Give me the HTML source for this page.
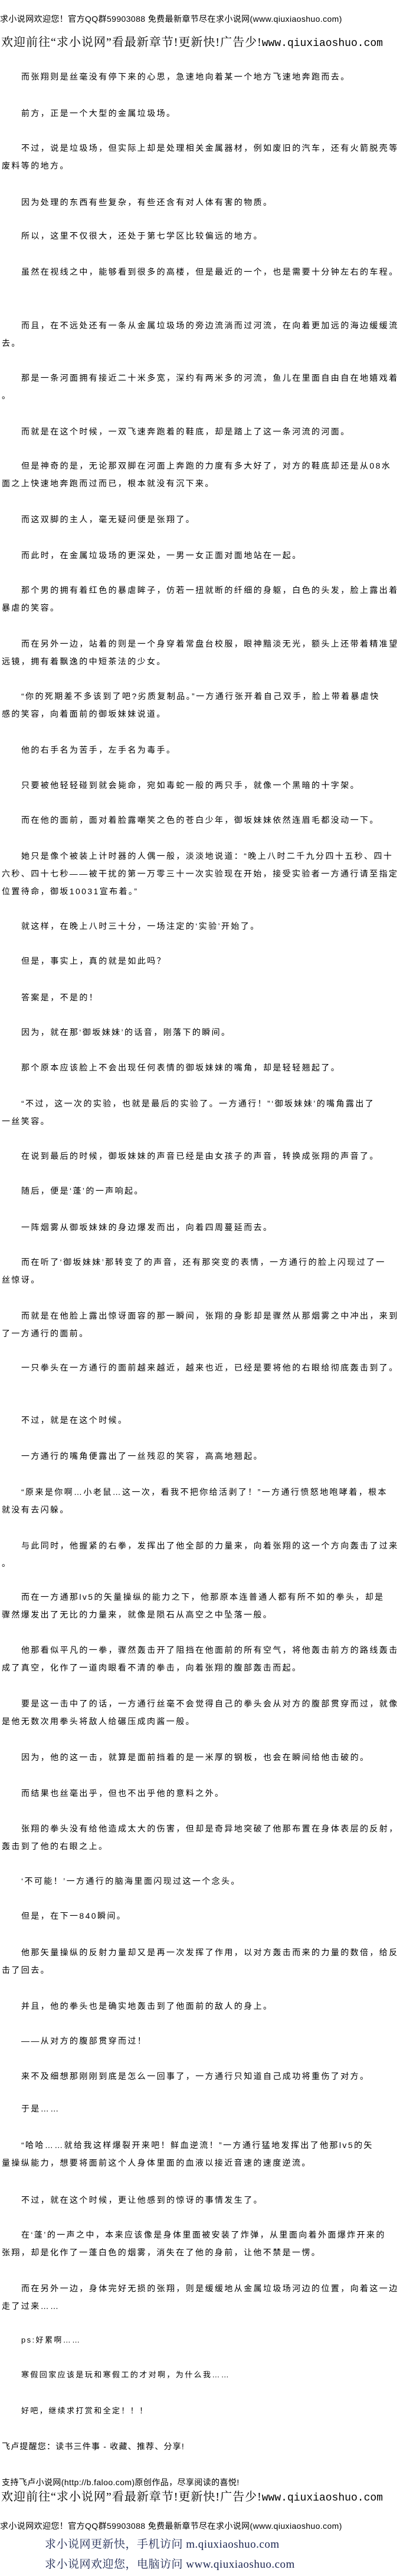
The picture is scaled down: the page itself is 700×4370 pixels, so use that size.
<!DOCTYPE html>
<html><head><meta charset="utf-8">
<style>
html,body{margin:0;padding:0;background:#fff;}
body{width:700px;height:4370px;position:relative;overflow:hidden;color:#000;
font-family:"Liberation Sans","Noto Sans CJK SC",sans-serif;}
.p{position:absolute;left:0;white-space:nowrap;font-size:14px;letter-spacing:2.4px;line-height:30px;padding-left:3px;text-indent:33px;}
.n{text-indent:0;}
.h1{position:absolute;left:0;white-space:nowrap;font-size:14px;letter-spacing:0.4px;line-height:20px;}
.h2{position:absolute;left:2px;white-space:nowrap;font-family:"Liberation Serif","Noto Serif CJK SC",serif;font-size:20px;letter-spacing:1px;line-height:26px;}
.h2 .u{font-family:"Liberation Mono",monospace;font-size:18px;letter-spacing:0;}
.f{position:absolute;left:76px;white-space:nowrap;font-family:"Liberation Serif","Noto Serif CJK SC",serif;font-size:19px;color:#1a2550;line-height:26px;letter-spacing:0.5px;}
</style></head><body>
<div class="h1" style="top:22px">求小说网欢迎您！官方QQ群59903088 免费最新章节尽在求小说网(www.qiuxiaoshuo.com)</div>
<div class="h2" style="top:59px">欢迎前往“求小说网”看最新章节!更新快!广告少!<span class="u">www.qiuxiaoshuo.com</span></div>

<div class="p" style="top:115px">而张翔则是丝毫没有停下来的心思，急速地向着某一个地方飞速地奔跑而去。</div>
<div class="p" style="top:177px">前方，正是一个大型的金属垃圾场。</div>
<div class="p" style="top:236px">不过，说是垃圾场，但实际上却是处理相关金属器材，例如废旧的汽车，还有火箭脱壳等<br>废料等的地方。</div>
<div class="p" style="top:328px">因为处理的东西有些复杂，有些还含有对人体有害的物质。</div>
<div class="p" style="top:385px">所以，这里不仅很大，还处于第七学区比较偏远的地方。</div>
<div class="p" style="top:446px">虽然在视线之中，能够看到很多的高楼，但是最近的一个，也是需要十分钟左右的车程。</div>
<div class="p" style="top:537px">而且，在不远处还有一条从金属垃圾场的旁边流淌而过河流，在向着更加远的海边缓缓流<br>去。</div>
<div class="p" style="top:626px">那是一条河面拥有接近二十米多宽，深约有两米多的河流，鱼儿在里面自由自在地嬉戏着<br>。</div>
<div class="p" style="top:717px">而就是在这个时候，一双飞速奔跑着的鞋底，却是踏上了这一条河流的河面。</div>
<div class="p" style="top:775px">但是神奇的是，无论那双脚在河面上奔跑的力度有多大好了，对方的鞋底却还是从08水<br>面之上快速地奔跑而过而已，根本就没有沉下来。</div>
<div class="p" style="top:866px">而这双脚的主人，毫无疑问便是张翔了。</div>
<div class="p" style="top:927px">而此时，在金属垃圾场的更深处，一男一女正面对面地站在一起。</div>
<div class="p" style="top:986px">那个男的拥有着红色的暴虐眸子，仿若一扭就断的纤细的身躯，白色的头发，脸上露出着<br>暴虐的笑容。</div>
<div class="p" style="top:1077px">而在另外一边，站着的则是一个身穿着常盘台校服，眼神黯淡无光，额头上还带着精准望<br>远镜，拥有着飘逸的中短茶法的少女。</div>
<div class="p" style="top:1166px">“你的死期差不多该到了吧?劣质复制品。”一方通行张开着自己双手，脸上带着暴虐快<br>感的笑容，向着面前的御坂妹妹说道。</div>
<div class="p" style="top:1257px">他的右手名为苦手，左手名为毒手。</div>
<div class="p" style="top:1317px">只要被他轻轻碰到就会毙命，宛如毒蛇一般的两只手，就像一个黑暗的十字架。</div>
<div class="p" style="top:1376px">而在他的面前，面对着脸露嘲笑之色的苍白少年，御坂妹妹依然连眉毛都没动一下。</div>
<div class="p" style="top:1437px">她只是像个被装上计时器的人偶一般，淡淡地说道：“晚上八时二千九分四十五秒、四十<br>六秒、四十七秒——被干扰的第一万零三十一次实验现在开始，接受实验者一方通行请至指定<br>位置待命，御坂10031宣布着。”</div>
<div class="p" style="top:1556px">就这样，在晚上八时三十分，一场注定的‘实验’开始了。</div>
<div class="p" style="top:1615px">但是，事实上，真的就是如此吗？</div>
<div class="p" style="top:1677px">答案是，不是的！</div>
<div class="p" style="top:1736px">因为，就在那‘御坂妹妹’的话音，刚落下的瞬间。</div>
<div class="p" style="top:1796px">那个原本应该脸上不会出现任何表情的御坂妹妹的嘴角，却是轻轻翘起了。</div>
<div class="p" style="top:1857px">“不过，这一次的实验，也就是最后的实验了。一方通行！”‘御坂妹妹’的嘴角露出了<br>一丝笑容。</div>
<div class="p" style="top:1946px">在说到最后的时候，御坂妹妹的声音已经是由女孩子的声音，转换成张翔的声音了。</div>
<div class="p" style="top:2005px">随后，便是‘蓬’的一声响起。</div>
<div class="p" style="top:2067px">一阵烟雾从御坂妹妹的身边爆发而出，向着四周蔓延而去。</div>
<div class="p" style="top:2126px">而在听了‘御坂妹妹’那转变了的声音，还有那突变的表情，一方通行的脸上闪现过了一<br>丝惊讶。</div>
<div class="p" style="top:2217px">而就是在他脸上露出惊讶面容的那一瞬间，张翔的身影却是骤然从那烟雾之中冲出，来到<br>了一方通行的面前。</div>
<div class="p" style="top:2305px">一只拳头在一方通行的面前越来越近，越来也近，已经是要将他的右眼给彻底轰击到了。</div>
<div class="p" style="top:2394px">不过，就是在这个时候。</div>
<div class="p" style="top:2455px">一方通行的嘴角便露出了一丝残忍的笑容，高高地翘起。</div>
<div class="p" style="top:2516px">“原来是你啊…小老鼠…这一次，看我不把你给活剥了！”一方通行愤怒地咆哮着，根本<br>就没有去闪躲。</div>
<div class="p" style="top:2607px">与此同时，他握紧的右拳，发挥出了他全部的力量来，向着张翔的这一个方向轰击了过来<br>。</div>
<div class="p" style="top:2694px">而在一方通那lv5的矢量操纵的能力之下，他那原本连普通人都有所不如的拳头，却是<br>骤然爆发出了无比的力量来，就像是陨石从高空之中坠落一般。</div>
<div class="p" style="top:2784px">他那看似平凡的一拳，骤然轰击开了阻挡在他面前的所有空气，将他轰击前方的路线轰击<br>成了真空，化作了一道肉眼看不清的拳击，向着张翔的腹部轰击而起。</div>
<div class="p" style="top:2875px">要是这一击中了的话，一方通行丝毫不会觉得自己的拳头会从对方的腹部贯穿而过，就像<br>是他无数次用拳头将敌人给碾压成肉酱一般。</div>
<div class="p" style="top:2966px">因为，他的这一击，就算是面前挡着的是一米厚的钢板，也会在瞬间给他击破的。</div>
<div class="p" style="top:3027px">而结果也丝毫出乎，但也不出乎他的意料之外。</div>
<div class="p" style="top:3087px">张翔的拳头没有给他造成太大的伤害，但却是奇异地突破了他那布置在身体表层的反射，<br>轰击到了他的右眼之上。</div>
<div class="p" style="top:3176px">‘不可能！’一方通行的脑海里面闪现过这一个念头。</div>
<div class="p" style="top:3235px">但是，在下一840瞬间。</div>
<div class="p" style="top:3297px">他那矢量操纵的反射力量却又是再一次发挥了作用，以对方轰击而来的力量的数倍，给反<br>击了回去。</div>
<div class="p" style="top:3388px">并且，他的拳头也是确实地轰击到了他面前的敌人的身上。</div>
<div class="p" style="top:3447px">——从对方的腹部贯穿而过！</div>
<div class="p" style="top:3507px">来不及细想那刚刚到底是怎么一回事了，一方通行只知道自己成功将重伤了对方。</div>
<div class="p" style="top:3562px">于是……</div>
<div class="p" style="top:3624px">“哈哈……就给我这样爆裂开来吧！鲜血逆流！”一方通行猛地发挥出了他那lv5的矢<br>量操纵能力，想要将面前这个人身体里面的血液以接近音速的速度逆流。</div>
<div class="p" style="top:3717px">不过，就在这个时候，更让他感到的惊讶的事情发生了。</div>
<div class="p" style="top:3776px">在‘蓬’的一声之中，本来应该像是身体里面被安装了炸弹，从里面向着外面爆炸开来的<br>张翔，却是化作了一蓬白色的烟雾，消失在了他的身前，让他不禁是一愣。</div>
<div class="p" style="top:3867px">而在另外一边，身体完好无损的张翔，则是缓缓地从金属垃圾场河边的位置，向着这一边<br>走了过来……</div>
<div class="p" style="top:3955px;font-size:13px">ps:好累啊……</div>
<div class="p" style="top:4014px;font-size:13px">寒假回家应该是玩和寒假工的才对啊，为什么我……</div>
<div class="p" style="top:4075px;font-size:13px">好吧，继续求打赏和全定！！！</div>

<div class="p n" style="top:4135px;font-size:14px;letter-spacing:1.2px">飞卢提醒您：读书三件事 - 收藏、推荐、分享!</div>
<div class="h1" style="top:4201px;left:3px">支持飞卢小说网(http://b.faloo.com)原创作品，尽享阅读的喜悦!</div>
<div class="h2" style="top:4223px">欢迎前往“求小说网”看最新章节!更新快!广告少!<span class="u">www.qiuxiaoshuo.com</span></div>
<div class="h1" style="top:4275px">求小说网欢迎您！官方QQ群59903088 免费最新章节尽在求小说网(www.qiuxiaoshuo.com)</div>
<div class="f" style="top:4304px">求小说网更新快，手机访问 m.qiuxiaoshuo.com</div>
<div class="f" style="top:4338px">求小说网欢迎您，电脑访问 www.qiuxiaoshuo.com</div>
</body></html>
